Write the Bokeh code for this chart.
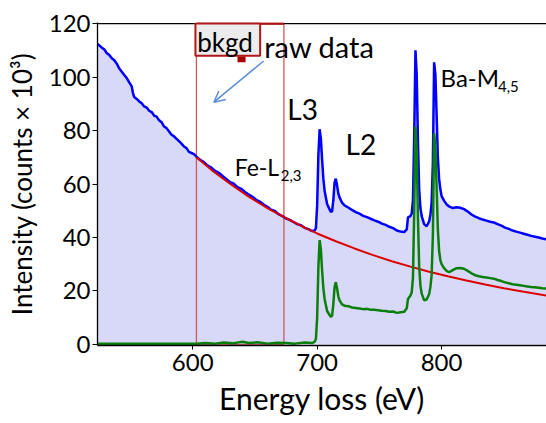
from bokeh.plotting import figure
from bokeh.models import Range1d, FixedTicker, Arrow, OpenHead
from bokeh.core.properties import value
from bokeh.embed import file_html
from bokeh.resources import INLINE

# ---------------- data ----------------
energy_raw = [523,525,527,529,531,533,535,537,539,541,543,545,547,549,551,552,553,555,557,559,
              561,563,565,567,569,571,573,575,577,579,581,583,585,587,589,591,593,595,597,599,
              601,603,606,609,612,615,618,621,624,627,630,633,636,639,642,645,648,651,654,657,
              660,663,666,669,672,675,678,681,684,687,690,693,696,698,699,700,701,702,703,704,
              705,706,708,710,711,712,713,714,715,716,717,718,720,722,725,728,731,734,737,740,
              743,746,749,752,755,758,761,764,767,770,772,773,775,776,777,778,779,780,781,782,
              783,784,786,788,790,791,792,793,794,795,796,797,798,799,800,802,804,806,809,812,
              815,818,821,824,827,830,833,836,839,842,845,848,851,854,857,860,863,866,869,872,
              875,878,881,884]
raw_counts = [112.5,111.8,111.0,110.3,108.9,108.2,107.0,106.3,105.0,103.2,102.0,100.8,99.6,98.0,96.5,94.0,92.5,91.8,90.9,90.2,
              89.0,88.6,87.4,86.9,85.6,85.2,83.8,83.1,81.5,80.9,79.6,78.4,77.8,76.9,76.0,75.1,74.0,73.4,72.0,71.6,
              71.2,70.2,69.0,68.2,66.9,66.1,64.9,64.2,63.0,61.9,60.7,60.1,58.8,58.2,57.0,56.1,55.2,54.1,53.4,52.3,
              51.5,50.4,49.9,48.7,48.0,47.1,46.6,45.8,45.0,44.6,43.6,43.1,42.4,42.6,43.5,52.0,71.0,80.5,77.0,69.0,
              62.0,57.5,52.5,50.5,49.6,49.8,54.0,60.5,62.0,59.5,56.5,55.0,53.0,52.0,51.2,50.3,49.5,48.9,48.1,47.6,
              47.0,46.4,45.9,45.2,44.7,44.0,43.5,42.6,42.2,42.0,43.0,47.5,48.0,49.0,54.0,78.0,110.0,101.0,76.0,58.0,
              51.0,48.0,45.0,44.2,46.0,48.5,53.0,68.0,105.5,101.0,86.0,70.0,62.0,58.0,55.5,53.8,52.4,51.6,51.0,51.3,
              51.1,50.6,49.7,48.6,47.8,47.2,46.7,46.3,45.9,45.6,45.0,44.4,43.7,43.2,42.6,42.2,41.8,41.4,41.0,40.6,
              40.3,40.0,39.6,39.3]

energy_bkgd = [603,615,630,645,660,673,690,700,715,730,745,760,775,790,805,820,835,850,865,884]
bkgd_counts = [70.0,65.3,60.1,55.3,51.0,47.7,43.7,41.5,38.6,35.9,33.4,31.1,29.1,27.2,25.5,23.9,22.4,21.0,19.8,18.3]

energy_sub = [523,603,610,618,625,632,640,645,652,660,668,675,682,690,696,698,699,700,701,702,
              703,704,705,706,708,710,711,712,713,714,715,716,717,718,720,722,725,728,731,734,
              737,740,743,746,749,752,755,758,761,764,767,770,772,773,775,776,777,778,779,780,
              781,782,783,784,786,788,790,791,792,793,794,795,796,797,798,799,800,802,804,806,
              809,812,815,818,821,824,827,830,833,836,839,842,845,848,851,854,857,860,863,866,
              869,872,875,878,881,884]
sub_counts = [0.3,0.3,0.5,0.3,0.7,0.4,1.0,0.5,0.8,0.3,0.6,0.5,0.3,0.7,0.5,1.0,2.0,10.0,29.0,39.0,
              35.5,27.5,21.0,17.0,12.5,11.0,10.3,10.8,15.0,21.5,23.3,21.0,18.0,16.5,15.0,14.5,14.3,13.8,13.6,13.4,
              13.2,13.3,13.0,13.0,12.8,12.6,12.5,12.2,12.3,11.8,12.0,12.2,13.5,17.0,18.3,19.5,25.0,50.0,81.5,72.5,
              47.0,29.0,22.0,19.0,16.5,16.8,18.8,21.5,26.0,41.0,79.0,74.5,59.0,43.0,35.0,31.5,30.0,28.5,27.5,27.0,
              27.8,28.5,28.6,28.3,27.5,26.6,25.9,25.5,25.2,25.0,24.8,24.6,24.1,23.7,23.2,22.9,22.5,22.3,22.1,21.9,
              21.7,21.5,21.4,21.2,21.0,20.9]

bkgd_window = [603.0, 673.3]
x_ticks = [600, 700, 800]
y_ticks = [0, 20, 40, 60, 80, 100, 120]

FONT = "Lato"
X0, X1 = 523.5, 884.3

p = figure(width=546, height=423, output_backend="svg", toolbar_location=None,
           x_range=Range1d(X0, X1), y_range=Range1d(-0.4, 120.4),
           min_border_left=97, min_border_right=0, min_border_top=22, min_border_bottom=78)
p.background_fill_color = "white"
p.border_fill_color = "white"
p.outline_line_color = None
p.grid.visible = False

# filled raw spectrum
p.varea(x=energy_raw, y1=[0] * len(energy_raw), y2=raw_counts, fill_color="#d8d8f8")

# background window
p.quad(left=bkgd_window[0], right=bkgd_window[1], bottom=0, top=120,
       fill_alpha=0, line_color="#cc5a5a", line_width=1.3)

p.line(energy_raw, raw_counts, line_color="#0000ff", line_width=2.5)
p.line(energy_bkgd, bkgd_counts, line_color="#dd0000", line_width=2)
p.line(energy_sub, sub_counts, line_color="#0a800a", line_width=2.5)

# top frame line (black) and window top edge (dark red)
p.segment(x0=[X0], y0=[120], x1=[X1], y1=[120], line_color="black", line_width=1.2)
p.segment(x0=[bkgd_window[0]], y0=[120], x1=[bkgd_window[1]], y1=[120],
          line_color="#b01010", line_width=2.5)

def label(x, y, s, size):
    p.text(x=[x], y=[y], text=[s], text_font=value(FONT), text_font_size=size,
           text_color="black", text_baseline="alphabetic", text_align="left")

# bkgd label box
p.quad(left=602.2, right=654.2, bottom=108.0, top=120, fill_color="#ececec",
       line_color="#b01818", line_width=2)
p.quad(left=636.0, right=642.5, bottom=105.5, top=107.7, fill_color="#a80000", line_color=None)
label(603.6, 113.0, "bkgd", "26px")

label(657.5, 111.3, "raw data", "29px")
p.add_layout(Arrow(end=OpenHead(size=11, line_color="#5b8ed4", line_width=1.5),
                   x_start=657.0, y_start=106.0, x_end=617.0, y_end=90.6,
                   line_color="#5b8ed4", line_width=1.5))

label(676.0, 88.1, "L3", "28px")
label(722.8, 75.0, "L2", "28px")
label(633.7, 66.2, "Fe-L", "23px")
label(670.7, 63.0, "2,3", "15px")
label(799.2, 99.7, "Ba-M", "24px")
label(845.3, 96.5, "4,5", "15px")

# axes
p.xaxis.ticker = FixedTicker(ticks=x_ticks)
p.yaxis.ticker = FixedTicker(ticks=y_ticks)
for ax in (p.xaxis[0], p.yaxis[0]):
    ax.axis_line_color = "black"
    ax.axis_line_width = 1.3
    ax.major_tick_line_color = "black"
    ax.minor_tick_line_color = None
    ax.major_tick_in = 0
    ax.major_label_text_font = FONT
    ax.major_label_text_font_size = "24px"
    ax.major_label_text_color = "black"
    ax.axis_label_text_font = FONT
    ax.axis_label_text_font_style = "normal"
    ax.axis_label_text_color = "black"
p.xaxis.major_tick_out = 4
p.yaxis.major_tick_out = 5
p.xaxis.major_label_standoff = 4
p.yaxis.major_label_standoff = 2
p.xaxis.axis_label = "Energy loss (eV)"
p.xaxis.axis_label_text_font_size = "30px"
p.xaxis.axis_label_standoff = 6
p.yaxis.axis_label = "Intensity (counts × 10³)"
p.yaxis.axis_label_text_font_size = "26px"
p.yaxis.axis_label_standoff = 8

open("out.html", "w").write(file_html(p, INLINE))
